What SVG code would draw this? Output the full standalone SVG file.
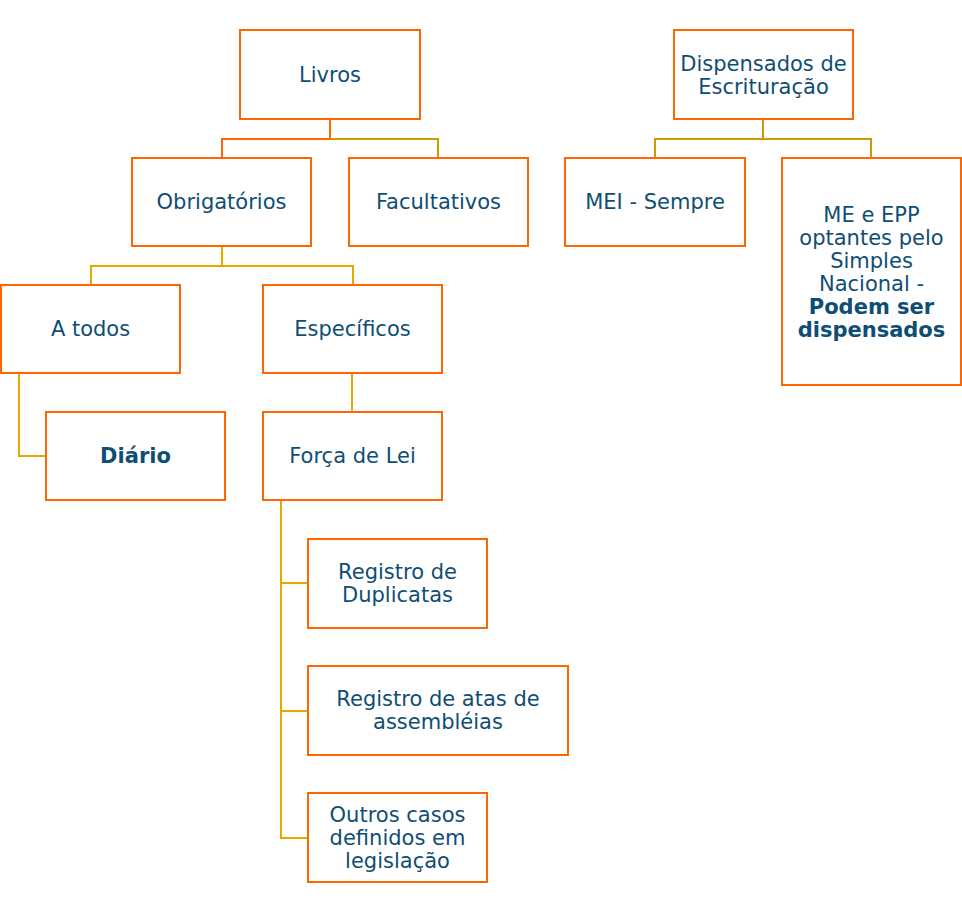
<svg xmlns="http://www.w3.org/2000/svg" width="962" height="913" viewBox="0 0 962 913">
<style>
.box{fill:#ffffff;stroke:#FF6600;stroke-width:2}
.t{font-family:"DejaVu Sans",Verdana,sans-serif;font-size:21px;fill:#0F4E74;text-anchor:middle}
.b{font-weight:bold}
.c{fill:none;stroke:#E6A800;stroke-width:2}
.c2{fill:none;stroke:#CC9900;stroke-width:2}
.c3{fill:none;stroke:#FF6600;stroke-width:2}
</style>
<rect width="962" height="913" fill="#ffffff"/>
<g id="connectors">
<path class="c3" d="M330 120 V139 H222 V158"/>
<path class="c2" d="M330 139 H438 V158"/>
<path class="c2" d="M763 120 V139 H655 V158"/>
<path class="c2" d="M763 139 H871 V158"/>
<path class="c" d="M222 247 V266 H91 V285"/>
<path class="c" d="M222 266 H353 V285"/>
<path class="c" d="M352 374 V412"/>
<path class="c" d="M19 374 V456 H46"/>
<path class="c" d="M281 501 V838 H308"/>
<path class="c" d="M281 583 H308"/>
<path class="c" d="M281 711 H308"/>
</g>
<g id="livros"><rect class="box" x="240" y="30" width="180" height="89"/><text class="t" x="330" y="82">Livros</text></g>
<g id="dispensados"><rect class="box" x="674" y="30" width="179" height="89"/><text class="t" x="763.5" y="70.5">Dispensados de</text><text class="t" x="763.5" y="93.5">Escrituração</text></g>
<g id="obrigatorios"><rect class="box" x="132" y="158" width="179" height="88"/><text class="t" x="221.5" y="209">Obrigatórios</text></g>
<g id="facultativos"><rect class="box" x="349" y="158" width="179" height="88"/><text class="t" x="438.5" y="209">Facultativos</text></g>
<g id="mei"><rect class="box" x="565" y="158" width="180" height="88"/><text class="t" x="655" y="209">MEI - Sempre</text></g>
<g id="me-epp"><rect class="box" x="782" y="158" width="179" height="227"/>
<text class="t" x="871.5" y="221.5">ME e EPP</text>
<text class="t" x="871.5" y="244.5">optantes pelo</text>
<text class="t" x="871.5" y="267.5">Simples</text>
<text class="t" x="871.5" y="290.5">Nacional -</text>
<text class="t b" x="871.5" y="313.5">Podem ser</text>
<text class="t b" x="871.5" y="336.5">dispensados</text></g>
<g id="a-todos"><rect class="box" x="1" y="285" width="179" height="88"/><text class="t" x="90.5" y="336">A todos</text></g>
<g id="especificos"><rect class="box" x="263" y="285" width="179" height="88"/><text class="t" x="352.5" y="336">Específicos</text></g>
<g id="diario"><rect class="box" x="46" y="412" width="179" height="88"/><text class="t b" x="135.5" y="463">Diário</text></g>
<g id="forca-de-lei"><rect class="box" x="263" y="412" width="179" height="88"/><text class="t" x="352.5" y="463">Força de Lei</text></g>
<g id="registro-duplicatas"><rect class="box" x="308" y="539" width="179" height="89"/><text class="t" x="397.5" y="579">Registro de</text><text class="t" x="397.5" y="602">Duplicatas</text></g>
<g id="registro-atas"><rect class="box" x="308" y="666" width="260" height="89"/><text class="t" x="438" y="706">Registro de atas de</text><text class="t" x="438" y="729">assembléias</text></g>
<g id="outros-casos"><rect class="box" x="308" y="793" width="179" height="89"/><text class="t" x="397.5" y="821.5">Outros casos</text><text class="t" x="397.5" y="844.5">definidos em</text><text class="t" x="397.5" y="867.5">legislação</text></g>
</svg>
